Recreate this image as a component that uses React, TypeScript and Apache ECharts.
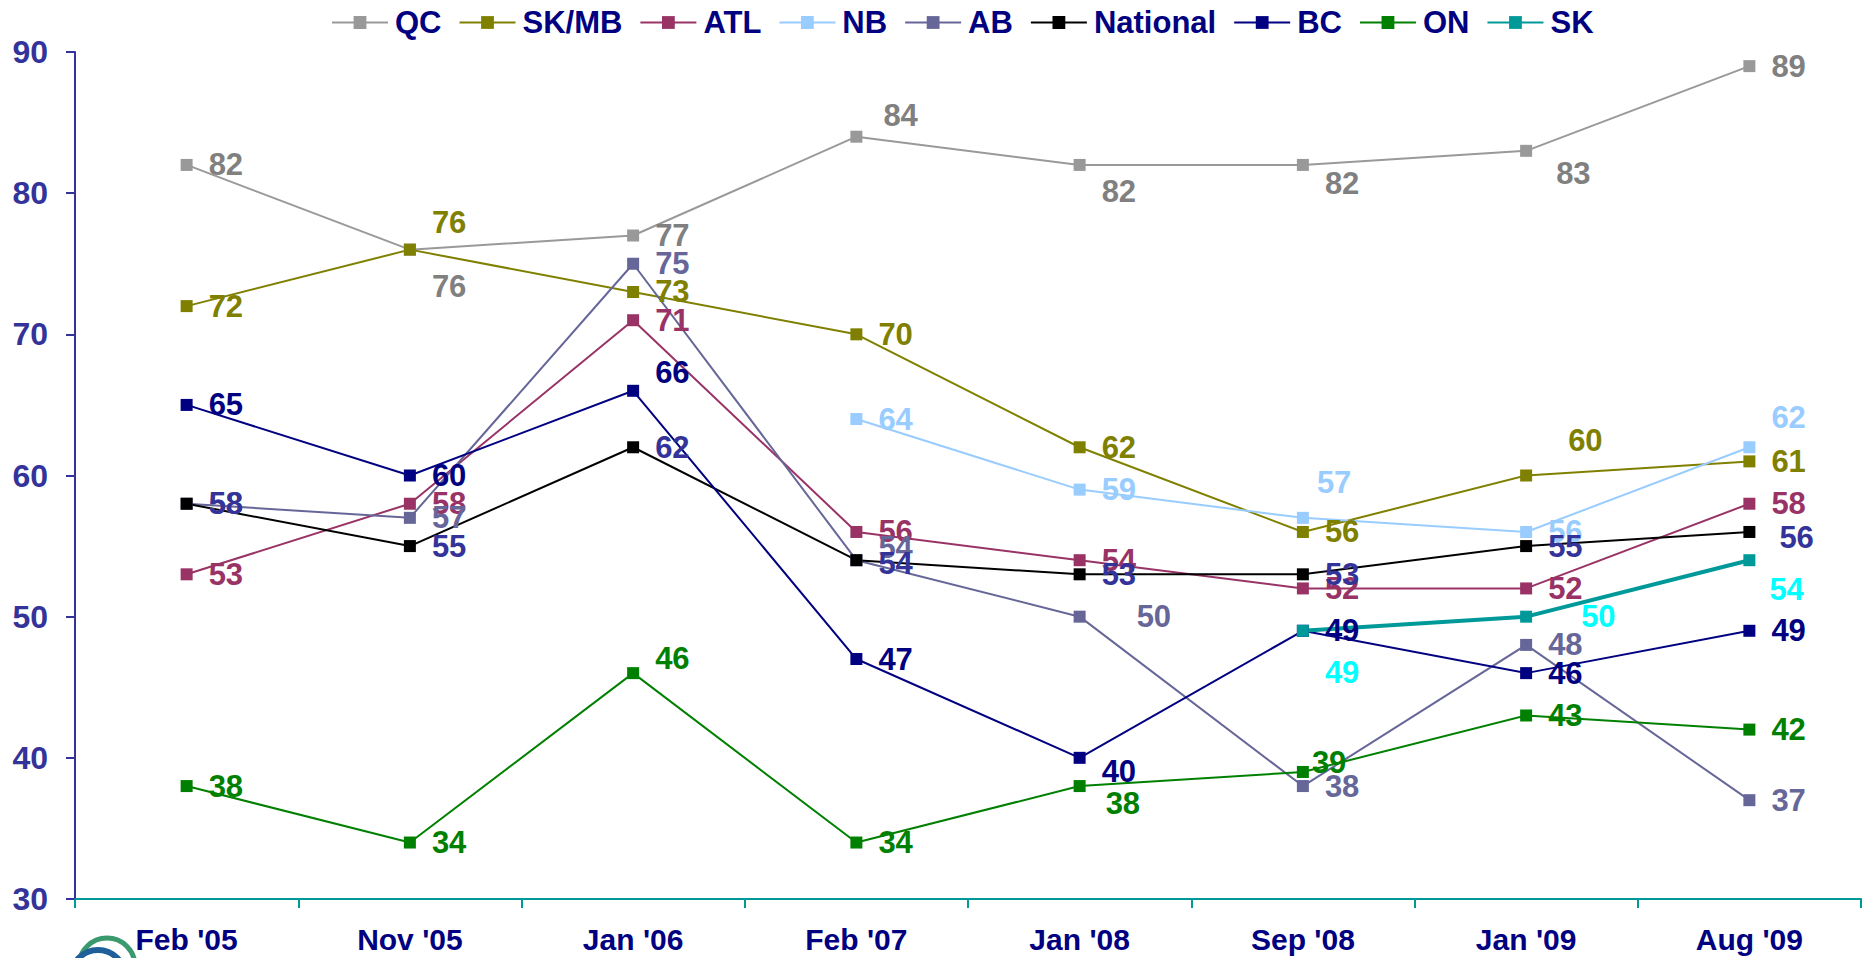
import React, { useEffect, useRef } from "react";
import * as echarts from "echarts";

const categories = ["Feb '05", "Nov '05", "Jan '06", "Feb '07", "Jan '08", "Sep '08", "Jan '09", "Aug '09"];
const qcValues = [82, 76, 77, 84, 82, 82, 83, 89];
const skmbValues = [72, 76, 73, 70, 62, 56, 60, 61];
const atlValues = [53, 58, 71, 56, 54, 52, 52, 58];
const nbValues = [null, null, null, 64, 59, 57, 56, 62];
const abValues = [58, 57, 75, 54, 50, 38, 48, 37];
const nationalValues = [58, 55, 62, 54, 53, 53, 55, 56];
const bcValues = [65, 60, 66, 47, 40, 49, 46, 49];
const onValues = [38, 34, 46, 34, 38, 39, 43, 42];
const skValues = [null, null, null, null, null, 49, 50, 54];

const yMin = 30;
const yMax = 90;
const yInterval = 10;

// label nudges (pixels) per point index, relative to the default right-hand label
const qcOffsets: Record<number, [number, number]> = { 1: [0, 37], 3: [5, -21], 4: [0, 27], 5: [0, 19], 6: [8, 23] };
const skmbOffsets: Record<number, [number, number]> = { 1: [0, -27], 6: [20, -35] };
const atlOffsets: Record<number, [number, number]> = {};
const nbOffsets: Record<number, [number, number]> = { 5: [-8, -35], 7: [0, -30] };
const abOffsets: Record<number, [number, number]> = { 3: [0, -13], 4: [35, 0] };
const nationalOffsets: Record<number, [number, number]> = { 3: [0, 3], 7: [8, 6] };
const bcOffsets: Record<number, [number, number]> = { 2: [0, -18], 4: [0, 14] };
const onOffsets: Record<number, [number, number]> = { 2: [0, -15], 4: [4, 17], 5: [-13, -9] };
const skOffsets: Record<number, [number, number]> = { 5: [0, 42], 6: [33, 0], 7: [-2, 29] };

const FONT = "'Liberation Sans', Arial, sans-serif";

type SeriesDef = {
  name: string;
  values: (number | null)[];
  color: string;
  labelColor: string;
  width: number;
  offsets: Record<number, [number, number]>;
};

const seriesDefs: SeriesDef[] = [
  { name: "QC", values: qcValues, color: "#999999", labelColor: "#808080", width: 2, offsets: qcOffsets },
  { name: "SK/MB", values: skmbValues, color: "#808000", labelColor: "#808000", width: 2, offsets: skmbOffsets },
  { name: "ATL", values: atlValues, color: "#993366", labelColor: "#993366", width: 2, offsets: atlOffsets },
  { name: "NB", values: nbValues, color: "#99CCFF", labelColor: "#99CCFF", width: 2, offsets: nbOffsets },
  { name: "AB", values: abValues, color: "#666699", labelColor: "#666699", width: 2, offsets: abOffsets },
  { name: "National", values: nationalValues, color: "#000000", labelColor: "#333399", width: 2, offsets: nationalOffsets },
  { name: "BC", values: bcValues, color: "#000080", labelColor: "#000080", width: 2, offsets: bcOffsets },
  { name: "ON", values: onValues, color: "#008000", labelColor: "#008000", width: 2, offsets: onOffsets },
  { name: "SK", values: skValues, color: "#009999", labelColor: "#00FFFF", width: 4, offsets: skOffsets },
];

export default function App() {
  const ref = useRef<HTMLDivElement>(null);

  useEffect(() => {
    if (!ref.current) return;
    const chart = echarts.init(ref.current, undefined, { renderer: "svg" });

    const series = seriesDefs.map((d) => ({
      name: d.name,
      type: "line",
      symbol: "rect",
      symbolSize: 12,
      color: d.color,
      lineStyle: { color: d.color, width: d.width },
      itemStyle: { color: d.color },
      data: d.values.map((v, i) => {
        if (v === null) return null;
        const off = d.offsets[i];
        return off ? { value: v, label: { offset: off } } : { value: v };
      }),
      label: {
        show: true,
        position: "right",
        distance: 16,
        color: d.labelColor,
        fontFamily: FONT,
        fontWeight: "bold",
        fontSize: 31,
      },
      emphasis: { disabled: true },
    }));

    chart.setOption({
      animation: false,
      backgroundColor: "#ffffff",
      textStyle: { fontFamily: FONT },
      legend: {
        left: 326,
        top: 2,
        itemWidth: 56,
        itemHeight: 16,
        itemGap: 17,
        textStyle: {
          fontFamily: FONT,
          fontWeight: "bold",
          fontSize: 31,
          color: "#000080",
          padding: [0, 0, 0, 2],
        },
        data: seriesDefs.map((d) => d.name),
      },
      grid: { left: 75, right: 10, top: 52, bottom: 59, containLabel: false },
      xAxis: {
        type: "category",
        data: categories,
        boundaryGap: true,
        axisLine: { lineStyle: { color: "#009999", width: 2 } },
        axisTick: { show: true, length: 9, lineStyle: { color: "#009999", width: 2 } },
        axisLabel: {
          color: "#000080",
          fontFamily: FONT,
          fontWeight: "bold",
          fontSize: 30,
          margin: 25,
        },
        splitLine: { show: false },
      },
      yAxis: {
        type: "value",
        min: yMin,
        max: yMax,
        interval: yInterval,
        axisLine: { show: true, lineStyle: { color: "#333399", width: 2 } },
        axisTick: { show: true, length: 9, lineStyle: { color: "#333399", width: 2 } },
        axisLabel: {
          color: "#333399",
          fontFamily: FONT,
          fontWeight: "bold",
          fontSize: 32,
          margin: 27,
        },
        splitLine: { show: false },
      },
      graphic: [
        {
          type: "arc",
          shape: { cx: 107, cy: 966, r: 28, startAngle: Math.PI, endAngle: 2 * Math.PI },
          style: { stroke: "#3a9a6e", lineWidth: 5, fill: null },
        },
        {
          type: "arc",
          shape: { cx: 98, cy: 977, r: 27, startAngle: Math.PI, endAngle: 2 * Math.PI },
          style: { stroke: "#1f5f9a", lineWidth: 6, fill: null },
        },
      ],
      series,
    });

    return () => chart.dispose();
  }, []);

  return (
    <div
      ref={ref}
      style={{ position: "absolute", left: 0, top: 0, width: 1871, height: 958, background: "#fff" }}
    />
  );
}
